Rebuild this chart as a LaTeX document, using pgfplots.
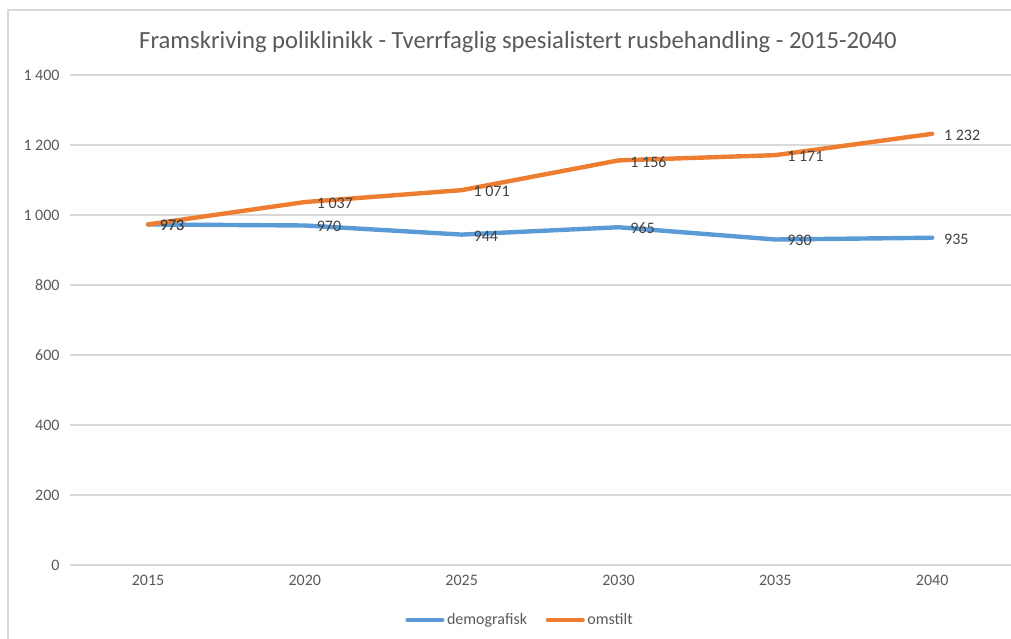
\documentclass[border=0pt]{standalone}
\usepackage{fontspec}
\setmainfont{Carlito}
\usepackage{pgfplots}
\pgfplotsset{compat=1.18}
\definecolor{cblue}{RGB}{91,155,213}
\definecolor{corange}{RGB}{237,125,49}
\definecolor{tgray}{RGB}{89,89,89}
\definecolor{lgray}{RGB}{64,64,64}
\definecolor{gridgray}{RGB}{217,217,217}
\pgfkeys{/pgf/number format/.cd,1000 sep={\ },assume math mode=true}
\begin{document}
\begin{tikzpicture}
\path[use as bounding box] (0,0) rectangle (758.25pt,479.25pt);
\draw[gridgray,line width=1.2pt] (6pt,0) -- (6pt,471.75pt) -- (760pt,471.75pt);
\node[font=\fontsize{18.5}{22}\selectfont,text=tgray] at (388.5pt,447.75pt) {Framskriving poliklinikk - Tverrfaglig spesialistert rusbehandling - 2015-2040};
\begin{axis}[
  at={(52.2pt,55.5pt)}, anchor=south west,
  scale only axis, width=705.75pt, height=367.5pt,
  xmin=-0.5, xmax=5.5, ymin=0, ymax=1400,
  xtick={0,1,2,3,4,5},
  xticklabels={2015,2020,2025,2030,2035,2040},
  ytick={0,200,...,1400},
  xmajorgrids=false, ymajorgrids=true, grid style={draw=gridgray,line width=0.9pt},
  axis line style={draw=none},
  major tick length=0pt, tick style={draw=none},
  tick label style={font=\fontsize{12}{14}\selectfont,text=tgray},
  xticklabel style={yshift=-4pt},
  yticklabel style={xshift=-4pt},
  every node near coord/.append style={anchor=west,xshift=4pt,yshift=-1pt,font=\fontsize{12}{14}\selectfont,text=lgray},
  legend style={at={(0.479,-0.112)},anchor=center,draw=none,fill=none,
    legend columns=2,font=\fontsize{12}{14}\selectfont,text=tgray,
    /tikz/every even column/.append style={column sep=12pt}},
  legend image code/.code={\draw[line width=3.3pt,line cap=round] (0pt,0pt) -- (26pt,0pt);},
]
\addplot[cblue,line width=3.3pt,line join=round,line cap=round,nodes near coords] coordinates {(0,973) (1,970) (2,944) (3,965) (4,930) (5,935)};
\addlegendentry{demografisk}
\addplot[corange,line width=3.3pt,line join=round,line cap=round,nodes near coords] coordinates {(0,973) (1,1037) (2,1071) (3,1156) (4,1171) (5,1232)};
\addlegendentry{omstilt}
\end{axis}
\end{tikzpicture}
\end{document}
